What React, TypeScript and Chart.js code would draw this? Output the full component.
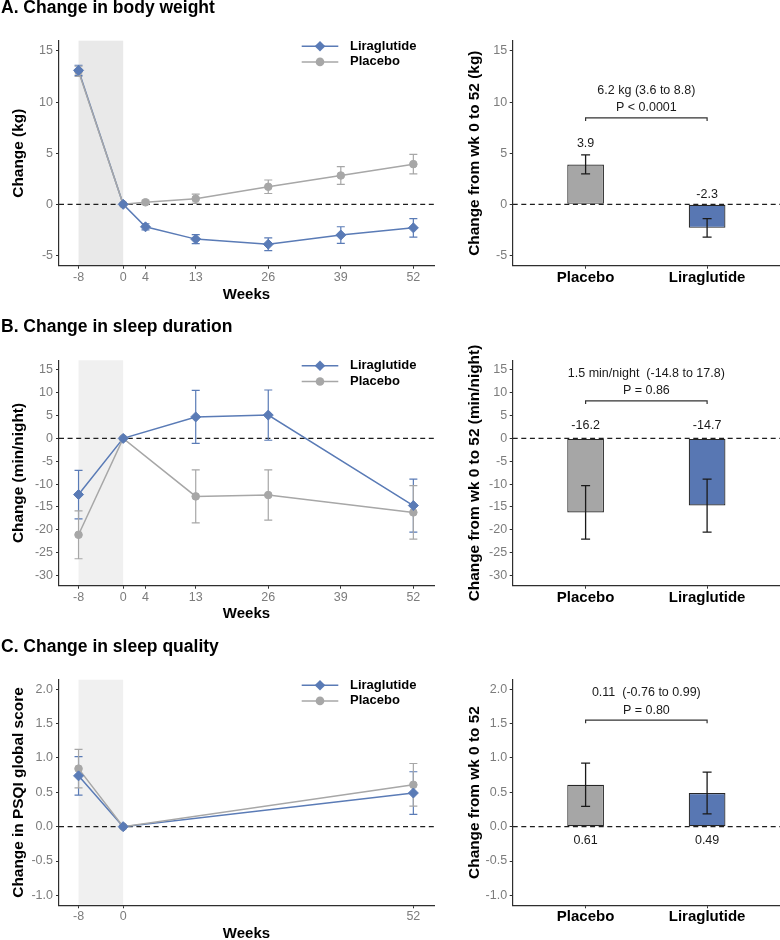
import React, { useEffect, useRef } from 'react';
import { Chart, registerables } from 'chart.js';

Chart.register(...registerables);

const FONT = "'Liberation Sans', Arial, Helvetica, sans-serif";
Chart.defaults.font.family = FONT;

// ---------------- shared labels ----------------
const seriesNames = ['Liraglutide', 'Placebo'];
const categories = ['Placebo', 'Liraglutide'];
const runInWeeks = [-8, 0];

// ---------------- A. Change in body weight ----------------
const weeksA = [-8, 0, 4, 13, 26, 39, 52];
const liraA = [13.1, 0, -2.2, -3.4, -3.9, -3.0, -2.3];
const liraErrA = [0.5, 0, 0.3, 0.44, 0.63, 0.81, 0.91];
const placeboA = [13.0, 0, 0.2, 0.55, 1.72, 2.82, 3.93];
const placeboErrA = [0.5, 0, 0.2, 0.45, 0.66, 0.86, 0.95];
const xTicksA = [-8, 0, 4, 13, 26, 39, 52];
const yTicksA = [-5, 0, 5, 10, 15];
const barsA = [3.9, -2.3];
const barErrA = [0.93, 0.9];
const barLabelYA = [5.95, 1.0];
const statA = ['6.2 kg (3.6 to 8.8)', 'P < 0.0001'];
const bracketYA = 8.45;

// ---------------- B. Change in sleep duration ----------------
const weeksB = [-8, 0, 13, 26, 52];
const liraB = [-12.3, 0, 4.7, 5.1, -14.7];
const liraErrB = [5.3, 0, 5.8, 5.5, 5.8];
const placeboB = [-21.1, 0, -12.7, -12.4, -16.2];
const placeboErrB = [5.25, 0, 5.8, 5.5, 5.85];
const xTicksB = [-8, 0, 4, 13, 26, 39, 52];
const yTicksB = [-30, -25, -20, -15, -10, -5, 0, 5, 10, 15];
const barsB = [-16.2, -14.7];
const barErrB = [5.85, 5.8];
const barLabelYB = [2.8, 2.8];
const statB = ['1.5 min/night  (-14.8 to 17.8)', 'P = 0.86'];
const bracketYB = 8.2;

// ---------------- C. Change in sleep quality ----------------
const weeksC = [-8, 0, 52];
const liraC = [0.74, 0, 0.49];
const liraErrC = [0.28, 0, 0.31];
const placeboC = [0.845, 0, 0.61];
const placeboErrC = [0.28, 0, 0.31];
const xTicksC = [-8, 0, 52];
const yTicksC = [-1, -0.5, 0, 0.5, 1, 1.5, 2];
const barsC = [0.61, 0.49];
const barErrC = [0.315, 0.305];
const barLabelYC = [-0.2, -0.2];
const statC = ['0.11  (-0.76 to 0.99)', 'P = 0.80'];
const bracketYC = 1.55;

// ---------------- styles ----------------
const BLUE = '#5a7bb6';
const GREY = '#a7a7a7';
const BAR_BLUE = '#5877b3';
const BAR_GREY = '#a6a6a6';
const AXIS = '#2e2e2e';
const TICK_GREY = '#7c7c7c';

type Panel = {
  title: string;
  weeks: number[];
  lira: number[];
  liraErr: number[];
  placebo: number[];
  placeboErr: number[];
  xTicks: number[];
  yTicks: number[];
  yMin: number;
  yMax: number;
  yFmt: (v: number) => string;
  yTitle: string;
  barTitle: string;
  bars: number[];
  barErr: number[];
  barLabelY: number[];
  barFmt: (v: number) => string;
  stat: string[];
  bracketY: number;
  shade: string;
};

const panels: Panel[] = [
  {
    title: 'A. Change in body weight',
    weeks: weeksA, lira: liraA, liraErr: liraErrA, placebo: placeboA, placeboErr: placeboErrA,
    xTicks: xTicksA, yTicks: yTicksA, yMin: -6, yMax: 16, yFmt: (v) => String(v),
    yTitle: 'Change (kg)', barTitle: 'Change from wk 0 to 52 (kg)',
    bars: barsA, barErr: barErrA, barLabelY: barLabelYA, barFmt: (v) => v.toFixed(1),
    stat: statA, bracketY: bracketYA, shade: '#e9e9e9',
  },
  {
    title: 'B. Change in sleep duration',
    weeks: weeksB, lira: liraB, liraErr: liraErrB, placebo: placeboB, placeboErr: placeboErrB,
    xTicks: xTicksB, yTicks: yTicksB, yMin: -32.25, yMax: 17.1, yFmt: (v) => String(v),
    yTitle: 'Change (min/night)', barTitle: 'Change from wk 0 to 52 (min/night)',
    bars: barsB, barErr: barErrB, barLabelY: barLabelYB, barFmt: (v) => v.toFixed(1),
    stat: statB, bracketY: bracketYB, shade: '#f0f0f0',
  },
  {
    title: 'C. Change in sleep quality',
    weeks: weeksC, lira: liraC, liraErr: liraErrC, placebo: placeboC, placeboErr: placeboErrC,
    xTicks: xTicksC, yTicks: yTicksC, yMin: -1.145, yMax: 2.14, yFmt: (v) => v.toFixed(1),
    yTitle: 'Change in PSQI global score', barTitle: 'Change from wk 0 to 52',
    bars: barsC, barErr: barErrC, barLabelY: barLabelYC, barFmt: (v) => v.toFixed(2),
    stat: statC, bracketY: bracketYC, shade: '#f0f0f0',
  },
];

type Row = { top: number; bottom: number; plotTop: number; plotBottom: number; weeksY: number; titleY: number };
const rows: Row[] = [
  { top: 0, bottom: 310, plotTop: 40.7, plotBottom: 265.7, weeksY: 295, titleY: 12.7 },
  { top: 310, bottom: 625, plotTop: 360.3, plotBottom: 585.7, weeksY: 613.5, titleY: 332 },
  { top: 625, bottom: 950, plotTop: 679.7, plotBottom: 905.3, weeksY: 933.7, titleY: 652 },
];

const LEFT_W = 436;
const LEFT_PLOT_L = 59;
const LEFT_PLOT_R = 434;
const RIGHT_W = 344;
const RIGHT_PLOT_L = 512.7 - 436;

function drawZero(ctx: CanvasRenderingContext2D, a: any, y: any) {
  const yy = y.getPixelForValue(0);
  ctx.save();
  ctx.strokeStyle = '#1e1e1e';
  ctx.lineWidth = 1.2;
  ctx.setLineDash([5, 3.6]);
  ctx.beginPath();
  ctx.moveTo(a.left, yy);
  ctx.lineTo(a.right, yy);
  ctx.stroke();
  ctx.restore();
}

function errBar(ctx: CanvasRenderingContext2D, x: number, y1: number, y2: number, cap: number) {
  ctx.beginPath();
  ctx.moveTo(x, y1);
  ctx.lineTo(x, y2);
  ctx.moveTo(x - cap, y1);
  ctx.lineTo(x + cap, y1);
  ctx.moveTo(x - cap, y2);
  ctx.lineTo(x + cap, y2);
  ctx.stroke();
}

function axisCommon(tickFont: any, tickColor: string, pad: number) {
  return {
    grid: { display: true, drawOnChartArea: false, drawTicks: true, tickLength: 3, color: AXIS, lineWidth: 1 },
    border: { display: true, color: AXIS, width: 1.2 },
    ticks: { font: tickFont, color: tickColor, padding: pad, autoSkip: false, maxRotation: 0, minRotation: 0 },
  };
}

function lineChart(canvas: HTMLCanvasElement, p: Panel, row: Row) {
  const pts = (ys: number[]) => p.weeks.map((w, i) => ({ x: w, y: ys[i] }));
  const errSeries = [
    { vals: p.lira, errs: p.liraErr, color: BLUE },
    { vals: p.placebo, errs: p.placeboErr, color: GREY },
  ];
  const deco = {
    id: 'lineDeco',
    beforeDraw(chart: any) {
      const { ctx, chartArea: a, scales } = chart;
      const x0 = scales.x.getPixelForValue(runInWeeks[0]);
      const x1 = scales.x.getPixelForValue(runInWeeks[1]);
      ctx.save();
      ctx.fillStyle = p.shade;
      ctx.fillRect(x0, a.top, x1 - x0, a.bottom - a.top - 0.6);
      ctx.restore();
      drawZero(ctx, a, scales.y);
    },
    beforeDatasetsDraw(chart: any) {
      const { ctx, scales } = chart;
      ctx.save();
      ctx.lineWidth = 1.2;
      errSeries.forEach((s) => {
        ctx.strokeStyle = s.color;
        p.weeks.forEach((w, i) => {
          if (!s.errs[i]) return;
          const x = scales.x.getPixelForValue(w);
          errBar(ctx, x, scales.y.getPixelForValue(s.vals[i] + s.errs[i]), scales.y.getPixelForValue(s.vals[i] - s.errs[i]), 4);
        });
      });
      ctx.restore();
    },
    afterDraw(chart: any) {
      const { ctx, chartArea: a } = chart;
      ctx.save();
      // legend
      const legendRows = [
        { name: seriesNames[0], color: BLUE, diamond: true, dy: 5.5 },
        { name: seriesNames[1], color: GREY, diamond: false, dy: 21.2 },
      ];
      legendRows.forEach((r) => {
        const yy = a.top + r.dy;
        ctx.strokeStyle = r.color;
        ctx.lineWidth = 1.5;
        ctx.beginPath();
        ctx.moveTo(a.right - 132.3, yy);
        ctx.lineTo(a.right - 95.7, yy);
        ctx.stroke();
        ctx.fillStyle = r.color;
        const cx = a.right - 114;
        ctx.beginPath();
        if (r.diamond) {
          const rr = 5.3;
          ctx.moveTo(cx, yy - rr);
          ctx.lineTo(cx + rr, yy);
          ctx.lineTo(cx, yy + rr);
          ctx.lineTo(cx - rr, yy);
          ctx.closePath();
        } else {
          ctx.arc(cx, yy, 4.3, 0, Math.PI * 2);
        }
        ctx.fill();
        ctx.fillStyle = '#000';
        ctx.font = `bold 13px ${FONT}`;
        ctx.textAlign = 'left';
        ctx.textBaseline = 'middle';
        ctx.fillText(r.name, a.right - 84, yy);
      });
      // panel title
      ctx.font = `bold 17.5px ${FONT}`;
      ctx.textBaseline = 'alphabetic';
      ctx.fillStyle = '#000';
      ctx.fillText(p.title, 1, row.titleY - row.top);
      ctx.restore();
    },
  };

  const tickFont = { family: FONT, size: 12.5 };
  const xc = axisCommon(tickFont, TICK_GREY, 1);
  const yc = axisCommon(tickFont, TICK_GREY, 3);
  return new Chart(canvas, {
    type: 'line',
    data: {
      datasets: [
        { label: seriesNames[0], data: pts(p.lira), borderColor: BLUE, borderWidth: 1.5, pointRadius: 0, tension: 0, fill: false, order: 4 },
        { label: seriesNames[1], data: pts(p.placebo), borderColor: GREY, borderWidth: 1.5, pointRadius: 0, tension: 0, fill: false, order: 3 },
        { label: seriesNames[1], data: pts(p.placebo), showLine: false, pointStyle: 'circle', pointRadius: 3.8, pointBorderWidth: 1, pointBackgroundColor: GREY, pointBorderColor: GREY, order: 2 },
        { label: seriesNames[0], data: pts(p.lira), showLine: false, pointStyle: 'rectRot', pointRadius: 5, pointBorderWidth: 1, pointBackgroundColor: BLUE, pointBorderColor: BLUE, order: 1 },
      ] as any,
    },
    options: {
      responsive: false,
      animation: false,
      devicePixelRatio: 1,
      events: [],
      layout: { padding: { top: row.plotTop - row.top, right: LEFT_W - LEFT_PLOT_R, bottom: 0, left: 0 }, autoPadding: false },
      plugins: { legend: { display: false }, tooltip: { enabled: false } },
      scales: {
        x: {
          type: 'linear',
          min: -11.5,
          max: 55.7,
          ...xc,
          afterBuildTicks: (s: any) => { s.ticks = p.xTicks.map((v) => ({ value: v })); },
          afterFit: (s: any) => { s.height = row.bottom - row.plotBottom; },
          title: {
            display: true, text: 'Weeks', color: '#000',
            font: { family: FONT, size: 15, weight: 'bold' },
            padding: { top: 0, bottom: row.bottom - 9 - row.weeksY },
          },
        },
        y: {
          type: 'linear',
          min: p.yMin,
          max: p.yMax,
          ...yc,
          ticks: { ...yc.ticks, callback: (v: any) => p.yFmt(Number(v)) },
          afterBuildTicks: (s: any) => { s.ticks = p.yTicks.map((v) => ({ value: v })); },
          afterFit: (s: any) => { s.width = LEFT_PLOT_L; },
          title: {
            display: true, text: p.yTitle, color: '#000',
            font: { family: FONT, size: 15.4, weight: 'bold' },
            padding: { top: 10, bottom: 0 },
          },
        },
      },
    } as any,
    plugins: [deco as any],
  });
}

function barChart(canvas: HTMLCanvasElement, p: Panel, row: Row) {
  const deco = {
    id: 'barDeco',
    beforeDraw(chart: any) {
      drawZero(chart.ctx, chart.chartArea, chart.scales.y);
    },
    afterDatasetsDraw(chart: any) {
      const { ctx, scales } = chart;
      const x = scales.x, y = scales.y;
      ctx.save();
      // error bars
      ctx.strokeStyle = '#1a1a1a';
      ctx.lineWidth = 1.3;
      p.bars.forEach((v, i) => {
        errBar(ctx, x.getPixelForValue(i), y.getPixelForValue(v + p.barErr[i]), y.getPixelForValue(v - p.barErr[i]), 4.5);
      });
      // bracket
      const xl = x.getPixelForValue(0);
      const xr = x.getPixelForValue(1);
      const yb = y.getPixelForValue(p.bracketY);
      ctx.strokeStyle = '#333';
      ctx.lineWidth = 1.2;
      ctx.beginPath();
      ctx.moveTo(xl, yb + 3);
      ctx.lineTo(xl, yb);
      ctx.lineTo(xr, yb);
      ctx.lineTo(xr, yb + 3);
      ctx.stroke();
      ctx.fillStyle = '#1a1a1a';
      ctx.font = `12.5px ${FONT}`;
      ctx.textAlign = 'center';
      ctx.textBaseline = 'middle';
      ctx.fillText(p.stat[0], (xl + xr) / 2, yb - 27.5);
      ctx.fillText(p.stat[1], (xl + xr) / 2, yb - 10);
      // value labels
      p.bars.forEach((v, i) => {
        ctx.fillText(p.barFmt(v), x.getPixelForValue(i), y.getPixelForValue(p.barLabelY[i]));
      });
      ctx.restore();
    },
  };

  const yc = axisCommon({ family: FONT, size: 12.5 }, TICK_GREY, 2.6);
  const xc = axisCommon({ family: FONT, size: 15, weight: 'bold' }, '#000', 0);
  return new Chart(canvas, {
    type: 'bar',
    data: {
      datasets: [
        {
          data: categories.map((_, i) => ({ x: i, y: p.bars[i] })),
          backgroundColor: [BAR_GREY, BAR_BLUE],
          borderColor: '#262626',
          borderWidth: 1.2,
          borderSkipped: false,
          barPercentage: 0.302,
          categoryPercentage: 1,
        },
      ] as any,
    },
    options: {
      responsive: false,
      animation: false,
      devicePixelRatio: 1,
      events: [],
      layout: { padding: { top: row.plotTop - row.top, right: 0, bottom: 0, left: 0 }, autoPadding: false },
      plugins: { legend: { display: false }, tooltip: { enabled: false } },
      scales: {
        x: {
          type: 'linear',
          min: -0.6,
          max: 1.6,
          offset: false,
          ...xc,
          grid: { ...xc.grid, offset: false },
          ticks: { ...xc.ticks, callback: (v: any) => categories[Number(v)] },
          afterBuildTicks: (s: any) => { s.ticks = categories.map((_, i) => ({ value: i })); },
          afterFit: (s: any) => { s.height = row.bottom - row.plotBottom; },
        },
        y: {
          type: 'linear',
          min: p.yMin,
          max: p.yMax,
          ...yc,
          ticks: { ...yc.ticks, callback: (v: any) => p.yFmt(Number(v)) },
          afterBuildTicks: (s: any) => { s.ticks = p.yTicks.map((v) => ({ value: v })); },
          afterFit: (s: any) => { s.width = RIGHT_PLOT_L; },
          title: {
            display: true, text: p.barTitle, color: '#000',
            font: { family: FONT, size: 15.4, weight: 'bold' },
            padding: { top: 29.8, bottom: 0 },
          },
        },
      },
    } as any,
    plugins: [deco as any],
  });
}

function ChartCanvas(props: { left: number; top: number; width: number; height: number; build: (c: HTMLCanvasElement) => Chart }) {
  const ref = useRef<HTMLCanvasElement>(null);
  const { left, top, width, height, build } = props;
  useEffect(() => {
    const chart = build(ref.current as HTMLCanvasElement);
    return () => chart.destroy();
  }, []);
  return (
    <canvas
      ref={ref}
      width={width}
      height={height}
      style={{ position: 'absolute', left, top, width, height, display: 'block' }}
    />
  );
}

export default function App() {
  return (
    <div style={{ position: 'absolute', left: 0, top: 0, width: 780, height: 940, overflow: 'hidden', background: '#fff' }}>
      {panels.map((p, k) => (
        <React.Fragment key={k}>
          <ChartCanvas left={0} top={rows[k].top} width={LEFT_W} height={rows[k].bottom - rows[k].top} build={(c) => lineChart(c, p, rows[k])} />
          <ChartCanvas left={LEFT_W} top={rows[k].top} width={RIGHT_W} height={rows[k].bottom - rows[k].top} build={(c) => barChart(c, p, rows[k])} />
        </React.Fragment>
      ))}
    </div>
  );
}
